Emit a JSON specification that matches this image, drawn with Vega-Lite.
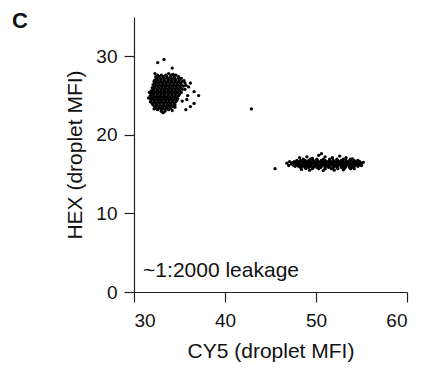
{
  "$schema": "https://vega.github.io/schema/vega-lite/v6.json",
  "autosize": {"type": "none"},
  "width": 273,
  "height": 275,
  "padding": {"left": 134, "top": 17, "right": 15, "bottom": 80},
  "background": "white",
  "title": {"text": "C", "anchor": "start", "frame": "group", "offset": 0, "dx": -122, "dy": 33, "baseline": "alphabetic", "fontSize": 22, "fontWeight": "bold", "font": "Liberation Sans", "color": "#111"},
  "config": {
    "view": {"stroke": null},
    "axis": {"grid": false, "domainColor": "#222", "tickColor": "#222", "labelColor": "#111", "titleColor": "#111", "labelFont": "Liberation Sans", "titleFont": "Liberation Sans", "labelFontSize": 19, "titleFontSize": 21, "titleFontWeight": "normal", "tickSize": 10, "domainWidth": 1.2, "tickWidth": 1.2}
  },
  "datasets": {
    "pts": [
      {"x":32.6,"y":27.6},{"x":33.0,"y":27.6},{"x":33.5,"y":27.6},{"x":34.1,"y":27.6},{"x":34.6,"y":27.6},
      {"x":32.4,"y":27.4},{"x":32.8,"y":27.4},{"x":33.2,"y":27.4},{"x":33.6,"y":27.4},{"x":34.0,"y":27.4},{"x":34.4,"y":27.4},{"x":34.9,"y":27.4},
      {"x":32.5,"y":27.2},{"x":32.9,"y":27.2},{"x":33.3,"y":27.2},{"x":33.7,"y":27.2},{"x":34.1,"y":27.2},{"x":34.5,"y":27.2},{"x":34.9,"y":27.2},{"x":35.2,"y":27.2},
      {"x":32.3,"y":27.0},{"x":32.6,"y":27.0},{"x":33.0,"y":27.0},{"x":33.4,"y":27.0},{"x":33.8,"y":27.0},{"x":34.2,"y":27.0},{"x":34.6,"y":27.0},{"x":35.0,"y":27.0},
      {"x":32.2,"y":26.8},{"x":32.5,"y":26.8},{"x":32.9,"y":26.8},{"x":33.3,"y":26.8},{"x":33.7,"y":26.8},{"x":34.1,"y":26.8},{"x":34.5,"y":26.8},{"x":34.9,"y":26.8},{"x":35.3,"y":26.8},
      {"x":32.3,"y":26.6},{"x":32.7,"y":26.6},{"x":33.1,"y":26.6},{"x":33.5,"y":26.6},{"x":33.9,"y":26.6},{"x":34.3,"y":26.6},{"x":34.7,"y":26.6},{"x":35.1,"y":26.6},{"x":35.6,"y":26.6},
      {"x":32.1,"y":26.4},{"x":32.4,"y":26.4},{"x":32.8,"y":26.4},{"x":33.2,"y":26.4},{"x":33.6,"y":26.4},{"x":34.0,"y":26.4},{"x":34.4,"y":26.4},{"x":34.8,"y":26.4},{"x":35.2,"y":26.4},
      {"x":32.2,"y":26.2},{"x":32.6,"y":26.2},{"x":33.0,"y":26.2},{"x":33.4,"y":26.2},{"x":33.8,"y":26.2},{"x":34.2,"y":26.2},{"x":34.6,"y":26.2},{"x":35.0,"y":26.2},{"x":35.4,"y":26.2},
      {"x":32.0,"y":26.0},{"x":32.3,"y":26.0},{"x":32.7,"y":26.0},{"x":33.1,"y":26.0},{"x":33.5,"y":26.0},{"x":33.9,"y":26.0},{"x":34.3,"y":26.0},{"x":34.7,"y":26.0},{"x":35.1,"y":26.0},
      {"x":32.1,"y":25.8},{"x":32.5,"y":25.8},{"x":32.9,"y":25.8},{"x":33.3,"y":25.8},{"x":33.7,"y":25.8},{"x":34.1,"y":25.8},{"x":34.5,"y":25.8},{"x":34.9,"y":25.8},{"x":35.3,"y":25.8},
      {"x":31.9,"y":25.6},{"x":32.2,"y":25.6},{"x":32.6,"y":25.6},{"x":33.0,"y":25.6},{"x":33.4,"y":25.6},{"x":33.8,"y":25.6},{"x":34.2,"y":25.6},{"x":34.6,"y":25.6},{"x":35.0,"y":25.6},
      {"x":32.0,"y":25.4},{"x":32.4,"y":25.4},{"x":32.8,"y":25.4},{"x":33.2,"y":25.4},{"x":33.6,"y":25.4},{"x":34.0,"y":25.4},{"x":34.4,"y":25.4},{"x":34.8,"y":25.4},{"x":35.2,"y":25.4},
      {"x":31.9,"y":25.2},{"x":32.2,"y":25.2},{"x":32.6,"y":25.2},{"x":33.0,"y":25.2},{"x":33.4,"y":25.2},{"x":33.8,"y":25.2},{"x":34.2,"y":25.2},{"x":34.6,"y":25.2},{"x":35.0,"y":25.2},
      {"x":31.8,"y":25.0},{"x":32.1,"y":25.0},{"x":32.5,"y":25.0},{"x":32.9,"y":25.0},{"x":33.3,"y":25.0},{"x":33.7,"y":25.0},{"x":34.1,"y":25.0},{"x":34.5,"y":25.0},{"x":34.9,"y":25.0},
      {"x":31.9,"y":24.8},{"x":32.3,"y":24.8},{"x":32.7,"y":24.8},{"x":33.1,"y":24.8},{"x":33.5,"y":24.8},{"x":33.9,"y":24.8},{"x":34.3,"y":24.8},{"x":34.7,"y":24.8},
      {"x":31.8,"y":24.6},{"x":32.1,"y":24.6},{"x":32.5,"y":24.6},{"x":32.9,"y":24.6},{"x":33.3,"y":24.6},{"x":33.7,"y":24.6},{"x":34.1,"y":24.6},{"x":34.5,"y":24.6},{"x":34.8,"y":24.6},
      {"x":31.9,"y":24.4},{"x":32.3,"y":24.4},{"x":32.7,"y":24.4},{"x":33.1,"y":24.4},{"x":33.5,"y":24.4},{"x":33.9,"y":24.4},{"x":34.3,"y":24.4},{"x":34.7,"y":24.4},
      {"x":31.8,"y":24.2},{"x":32.2,"y":24.2},{"x":32.6,"y":24.2},{"x":33.0,"y":24.2},{"x":33.4,"y":24.2},{"x":33.8,"y":24.2},{"x":34.2,"y":24.2},{"x":34.6,"y":24.2},
      {"x":32.0,"y":24.0},{"x":32.4,"y":24.0},{"x":32.8,"y":24.0},{"x":33.2,"y":24.0},{"x":33.6,"y":24.0},{"x":34.0,"y":24.0},{"x":34.4,"y":24.0},
      {"x":32.1,"y":23.8},{"x":32.5,"y":23.8},{"x":32.9,"y":23.8},{"x":33.3,"y":23.8},{"x":33.7,"y":23.8},{"x":34.1,"y":23.8},{"x":34.5,"y":23.8},
      {"x":32.3,"y":23.6},{"x":32.7,"y":23.6},{"x":33.1,"y":23.6},{"x":33.5,"y":23.6},{"x":33.9,"y":23.6},{"x":34.3,"y":23.6},
      {"x":32.4,"y":23.4},{"x":32.8,"y":23.4},{"x":33.2,"y":23.4},{"x":33.6,"y":23.4},{"x":34.0,"y":23.4},{"x":34.5,"y":23.5},
      {"x":32.6,"y":23.2},{"x":33.0,"y":23.2},{"x":33.4,"y":23.2},{"x":33.8,"y":23.2},
      {"x":33.0,"y":23.0},{"x":33.4,"y":23.0},
      {"x":32.3,"y":27.8},{"x":33.8,"y":27.8},{"x":34.3,"y":27.7},{"x":35.5,"y":26.9},{"x":35.7,"y":26.3},{"x":31.7,"y":25.4},{"x":31.6,"y":24.7},{"x":32.2,"y":23.3},{"x":33.2,"y":22.8},{"x":34.2,"y":23.1},
      {"x":32.6,"y":29.2},{"x":33.3,"y":29.6},{"x":34.2,"y":28.5},{"x":36.2,"y":26.6},{"x":36.6,"y":25.5},{"x":37.1,"y":25.0},{"x":35.9,"y":25.0},{"x":36.6,"y":24.0},{"x":36.2,"y":23.6},{"x":35.7,"y":23.2},{"x":35.3,"y":24.3},{"x":35.6,"y":25.8},{"x":36.0,"y":26.1},{"x":35.8,"y":24.5},
      {"x":42.9,"y":23.3},{"x":45.5,"y":15.7},
      {"x":48.6,"y":16.9},{"x":49.4,"y":16.9},{"x":50.1,"y":16.9},{"x":50.8,"y":16.9},{"x":51.5,"y":16.9},{"x":52.3,"y":16.9},{"x":53.0,"y":16.9},{"x":53.8,"y":16.9},
      {"x":47.9,"y":16.75},{"x":48.3,"y":16.75},{"x":48.8,"y":16.75},{"x":49.2,"y":16.75},{"x":49.7,"y":16.75},{"x":50.1,"y":16.75},{"x":50.6,"y":16.75},{"x":51.0,"y":16.75},{"x":51.5,"y":16.75},{"x":51.9,"y":16.75},{"x":52.4,"y":16.75},{"x":52.8,"y":16.75},{"x":53.3,"y":16.75},{"x":53.7,"y":16.75},{"x":54.2,"y":16.75},{"x":54.6,"y":16.75},
      {"x":47.6,"y":16.6},{"x":48.0,"y":16.6},{"x":48.5,"y":16.6},{"x":48.9,"y":16.6},{"x":49.4,"y":16.6},{"x":49.8,"y":16.6},{"x":50.3,"y":16.6},{"x":50.7,"y":16.6},{"x":51.2,"y":16.6},{"x":51.6,"y":16.6},{"x":52.1,"y":16.6},{"x":52.5,"y":16.6},{"x":53.0,"y":16.6},{"x":53.4,"y":16.6},{"x":53.9,"y":16.6},{"x":54.3,"y":16.6},{"x":54.8,"y":16.6},
      {"x":47.4,"y":16.45},{"x":47.8,"y":16.45},{"x":48.2,"y":16.45},{"x":48.7,"y":16.45},{"x":49.1,"y":16.45},{"x":49.6,"y":16.45},{"x":50.0,"y":16.45},{"x":50.5,"y":16.45},{"x":50.9,"y":16.45},{"x":51.4,"y":16.45},{"x":51.8,"y":16.45},{"x":52.3,"y":16.45},{"x":52.7,"y":16.45},{"x":53.2,"y":16.45},{"x":53.6,"y":16.45},{"x":54.1,"y":16.45},{"x":54.5,"y":16.45},{"x":54.9,"y":16.45},
      {"x":47.3,"y":16.3},{"x":47.7,"y":16.3},{"x":48.0,"y":16.3},{"x":48.4,"y":16.3},{"x":48.9,"y":16.3},{"x":49.3,"y":16.3},{"x":49.8,"y":16.3},{"x":50.2,"y":16.3},{"x":50.7,"y":16.3},{"x":51.1,"y":16.3},{"x":51.6,"y":16.3},{"x":52.0,"y":16.3},{"x":52.5,"y":16.3},{"x":52.9,"y":16.3},{"x":53.4,"y":16.3},{"x":53.8,"y":16.3},{"x":54.3,"y":16.3},{"x":54.7,"y":16.3},{"x":55.0,"y":16.3},
      {"x":47.5,"y":16.15},{"x":47.9,"y":16.15},{"x":48.3,"y":16.15},{"x":48.7,"y":16.15},{"x":49.1,"y":16.15},{"x":49.5,"y":16.15},{"x":50.0,"y":16.15},{"x":50.4,"y":16.15},{"x":50.9,"y":16.15},{"x":51.3,"y":16.15},{"x":51.8,"y":16.15},{"x":52.2,"y":16.15},{"x":52.7,"y":16.15},{"x":53.1,"y":16.15},{"x":53.6,"y":16.15},{"x":54.0,"y":16.15},{"x":54.5,"y":16.15},{"x":54.8,"y":16.15},
      {"x":47.7,"y":16.0},{"x":48.1,"y":16.0},{"x":48.5,"y":16.0},{"x":48.9,"y":16.0},{"x":49.4,"y":16.0},{"x":49.8,"y":16.0},{"x":50.2,"y":16.0},{"x":50.6,"y":16.0},{"x":51.1,"y":16.0},{"x":51.5,"y":16.0},{"x":52.0,"y":16.0},{"x":52.4,"y":16.0},{"x":52.9,"y":16.0},{"x":53.3,"y":16.0},{"x":53.8,"y":16.0},{"x":54.2,"y":16.0},{"x":54.6,"y":16.0},
      {"x":48.3,"y":15.85},{"x":48.8,"y":15.85},{"x":49.2,"y":15.85},{"x":49.7,"y":15.85},{"x":50.1,"y":15.85},{"x":50.5,"y":15.85},{"x":51.0,"y":15.85},{"x":51.4,"y":15.85},{"x":51.9,"y":15.85},{"x":52.3,"y":15.85},{"x":52.8,"y":15.85},{"x":53.2,"y":15.85},{"x":53.7,"y":15.85},{"x":54.1,"y":15.85},
      {"x":48.9,"y":15.7},{"x":49.6,"y":15.7},{"x":50.3,"y":15.7},{"x":51.0,"y":15.7},{"x":51.7,"y":15.7},{"x":52.4,"y":15.7},{"x":53.1,"y":15.7},{"x":53.8,"y":15.7},
      {"x":46.8,"y":16.4},{"x":47.0,"y":16.1},{"x":47.1,"y":16.6},{"x":48.2,"y":17.1},{"x":49.0,"y":17.2},{"x":49.6,"y":17.0},{"x":50.3,"y":17.4},{"x":50.6,"y":17.6},{"x":51.0,"y":17.2},{"x":51.8,"y":17.1},{"x":52.6,"y":17.3},{"x":53.3,"y":17.1},{"x":54.0,"y":16.95},{"x":55.2,"y":16.5},{"x":55.0,"y":16.1},{"x":49.3,"y":15.5},{"x":50.8,"y":15.45},{"x":52.0,"y":15.5},{"x":53.0,"y":15.55},{"x":54.2,"y":15.7},{"x":48.4,"y":15.6}
    ],
    "note": [{"x": 31.0, "y": 1.95, "label": "~1:2000 leakage"}]
  },
  "layer": [
    {
      "data": {"name": "pts"},
      "mark": {"type": "circle", "size": 11, "opacity": 1, "color": "black"},
      "encoding": {
        "x": {"field": "x", "type": "quantitative", "scale": {"domain": [30, 60], "nice": false, "zero": false}, "axis": {"title": "CY5 (droplet MFI)", "values": [30, 40, 50, 60], "labelPadding": 9, "titlePadding": 10}},
        "y": {"field": "y", "type": "quantitative", "scale": {"domain": [0, 35], "nice": false, "zero": false}, "axis": {"title": "HEX (droplet MFI)", "values": [0, 10, 20, 30], "labelPadding": 7, "titlePadding": 10}}
      }
    },
    {
      "data": {"name": "note"},
      "mark": {"type": "text", "align": "left", "baseline": "alphabetic", "fontSize": 21, "font": "Liberation Sans", "color": "#111"},
      "encoding": {
        "x": {"field": "x", "type": "quantitative"},
        "y": {"field": "y", "type": "quantitative"},
        "text": {"field": "label"}
      }
    }
  ]
}
